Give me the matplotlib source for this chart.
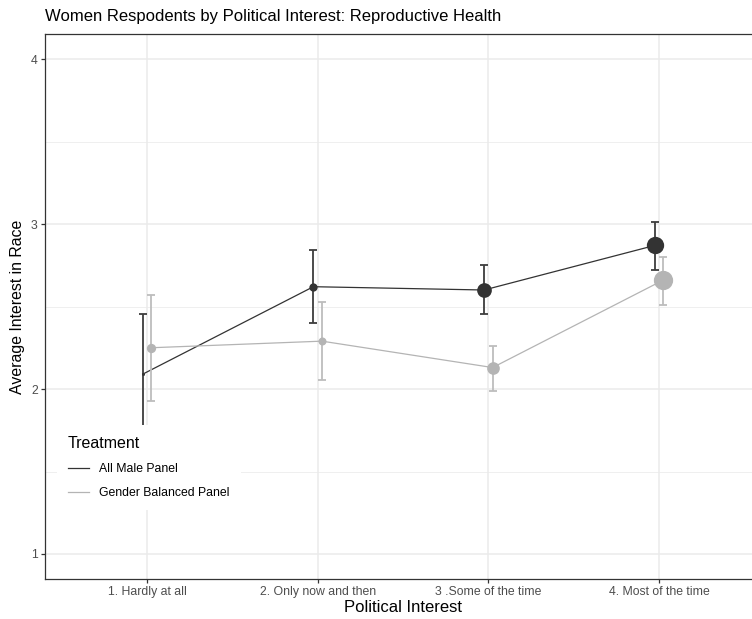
import matplotlib
matplotlib.use('Agg')
import matplotlib.pyplot as plt
import numpy as np

# values
categories = ['1. Hardly at all', '2. Only now and then', '3 .Some of the time', '4. Most of the time']
groups = ['All Male Panel', 'Gender Balanced Panel']

male_mean = [2.09, 2.62, 2.60, 2.87]
male_low = [1.73, 2.40, 2.455, 2.72]
male_high = [2.455, 2.84, 2.75, 3.01]
male_n = [9, 69, 216, 300]

gender_mean = [2.25, 2.29, 2.13, 2.66]
gender_low = [1.93, 2.055, 1.99, 2.51]
gender_high = [2.57, 2.53, 2.26, 2.80]
gender_n = [86, 64, 160, 372]

colors = ['#333333', '#b4b4b4']
bar_colors = ['#3d3d3d', '#bdbdbd']

plt.rcParams['font.family'] = ['Liberation Sans', 'DejaVu Sans']

W, H = 752, 619
fig = plt.figure(figsize=(W / 100, H / 100), dpi=100)
# panel runs past the right edge of the image, like the reference
ax = fig.add_axes([44.6 / W, (H - 578.75) / H, 716.8 / W, 544.5 / H])

x = np.arange(1, len(categories) + 1)
dodge = 0.025

series = [
    (male_mean, male_low, male_high, male_n),
    (gender_mean, gender_low, gender_high, gender_n),
]
for i, (mean, low, high, n) in enumerate(series):
    xs = x + (-dodge if i == 0 else dodge)
    mean = np.array(mean)
    yerr = [mean - np.array(low), np.array(high) - mean]
    ax.errorbar(xs, mean, yerr=yerr, fmt='none', ecolor=bar_colors[i],
                elinewidth=1.3, capsize=2.9, capthick=1.3, zorder=3)
    ax.plot(xs, mean, color=colors[i], lw=0.9, zorder=3, label=groups[i])
    for xi, yi, ni in zip(xs, mean, n):
        ax.plot(xi, yi, 'o', color=colors[i], ms=np.sqrt(ni) * 0.72,
                mec='none', zorder=4)

ax.set_xlim(0.4, 4.6)
ax.set_ylim(0.85, 4.15)
ax.set_xticks(x)
ax.set_xticklabels(categories)
ax.set_yticks([1, 2, 3, 4])
ax.set_yticks([1.5, 2.5, 3.5], minor=True)

ax.grid(True, which='major', color='#ebebeb', lw=1.1, zorder=0)
ax.grid(True, which='minor', axis='y', color='#ebebeb', lw=0.55, zorder=0)
ax.set_axisbelow(True)
for s in ax.spines.values():
    s.set_color('#333333')
    s.set_linewidth(0.9)

ax.tick_params(which='major', length=2.75, width=0.9, color='#333333',
               labelcolor='#4d4d4d', labelsize=8.8, pad=2.2)
ax.tick_params(which='minor', length=0)

fig.text(45 / W, 1 - 20.7 / H, 'Women Respodents by Political Interest: Reproductive Health',
         ha='left', va='baseline', fontsize=12, color='black')
fig.text(403 / W, 1 - 608 / H, 'Political Interest', ha='center', va='center',
         fontsize=12)
fig.text(18 / W, 1 - 307 / H, 'Average Interest in Race', ha='center',
         va='center', rotation=90, fontsize=11.4)

leg = ax.legend(loc='upper left', bbox_to_anchor=(0.0173, 0.2824),
                borderaxespad=0, title='Treatment', fontsize=8.8,
                title_fontsize=11.5, frameon=True, fancybox=False,
                handlelength=1.75, handletextpad=0.8, labelspacing=1.0,
                borderpad=0.9, alignment='left')
leg.get_frame().set_facecolor('white')
leg.get_frame().set_edgecolor('none')
leg.get_frame().set_alpha(1)

fig.savefig('out.png', dpi=100)
